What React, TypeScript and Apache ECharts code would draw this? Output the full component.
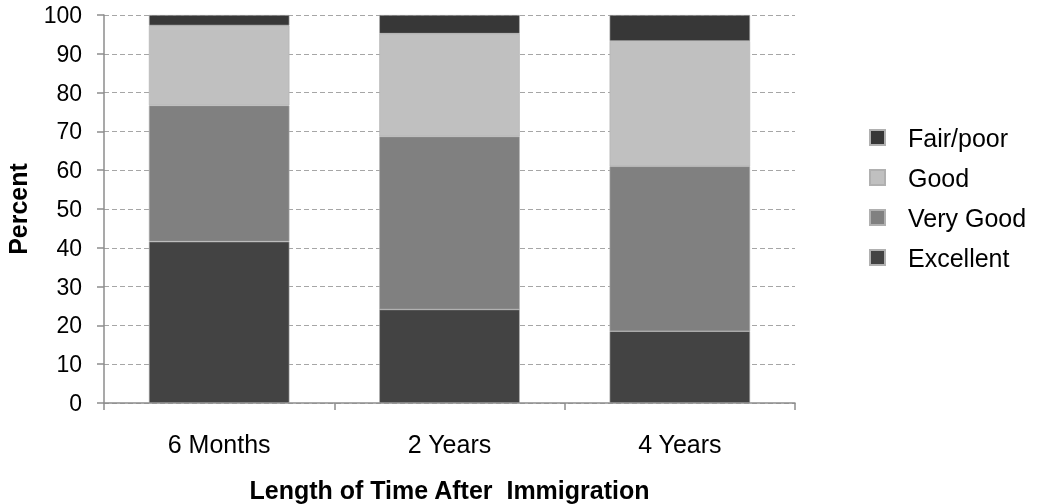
import React, { useEffect, useRef } from "react";
import * as echarts from "echarts";

const categories = ["6 Months", "2 Years", "4 Years"];
const excellent = [41.6, 24.1, 18.5];
const veryGood = [35.1, 44.6, 42.5];
const good = [20.6, 26.5, 32.3];
const fairPoor = [2.7, 4.8, 6.7];
const legendOrder = ["Fair/poor", "Good", "Very Good", "Excellent"];

const FONT = "Liberation Sans, Arial, sans-serif";
const FS = 25;

export default function App() {
  const ref = useRef<HTMLDivElement>(null);
  useEffect(() => {
    if (!ref.current) return;
    const chart = echarts.init(ref.current, undefined, { renderer: "svg" });
    const mk = (name: string, data: number[], color: string) => ({
      name,
      type: "bar",
      stack: "total",
      data,
      barWidth: "61%",
      itemStyle: { color, borderColor: "#b0b0b0", borderWidth: 0.6 },
    });
    chart.setOption({
      animation: false,
      textStyle: { fontFamily: FONT },
      grid: {
        left: 104,
        right: 247,
        top: 15,
        bottom: 101,
        containLabel: false,
        outerBoundsMode: "none",
      },
      legend: {
        orient: "vertical",
        left: 864,
        top: 120,
        data: legendOrder,
        icon: "rect",
        itemWidth: 15,
        itemHeight: 15,
        itemGap: 15,
        textStyle: { fontSize: FS, color: "#000", fontFamily: FONT, padding: [0, 0, 0, 18] },
      },
      xAxis: {
        type: "category",
        data: categories,
        axisLine: { lineStyle: { color: "#8c8c8c", width: 1.5 } },
        axisTick: { show: true, length: 7, lineStyle: { color: "#8c8c8c", width: 1.5 } },
        axisLabel: { fontSize: FS, color: "#000", margin: 28, fontFamily: FONT },
        name: "Length of Time After  Immigration",
        nameLocation: "middle",
        nameGap: 74,
        nameTextStyle: { fontSize: FS, fontWeight: "bold", color: "#000", fontFamily: FONT },
      },
      yAxis: {
        type: "value",
        min: 0,
        max: 100,
        interval: 10,
        axisLine: { show: true, lineStyle: { color: "#8c8c8c", width: 1.5 } },
        axisTick: { show: true, length: 7, lineStyle: { color: "#8c8c8c", width: 1.5 } },
        axisLabel: { fontSize: 23, color: "#000", margin: 22, fontFamily: FONT },
        splitLine: { lineStyle: { color: "#a6a6a6", type: [5, 3], width: 1.2 } },
        name: "Percent",
        nameLocation: "middle",
        nameGap: 74,
        nameTextStyle: { fontSize: FS, fontWeight: "bold", color: "#000", fontFamily: FONT },
      },
      series: [
        mk("Excellent", excellent, "#434343"),
        mk("Very Good", veryGood, "#808080"),
        mk("Good", good, "#c0c0c0"),
        mk("Fair/poor", fairPoor, "#373737"),
      ],
    });
    return () => chart.dispose();
  }, []);
  return (
    <div
      ref={ref}
      style={{ position: "fixed", left: 0, top: 0, width: 1042, height: 504 }}
    />
  );
}
